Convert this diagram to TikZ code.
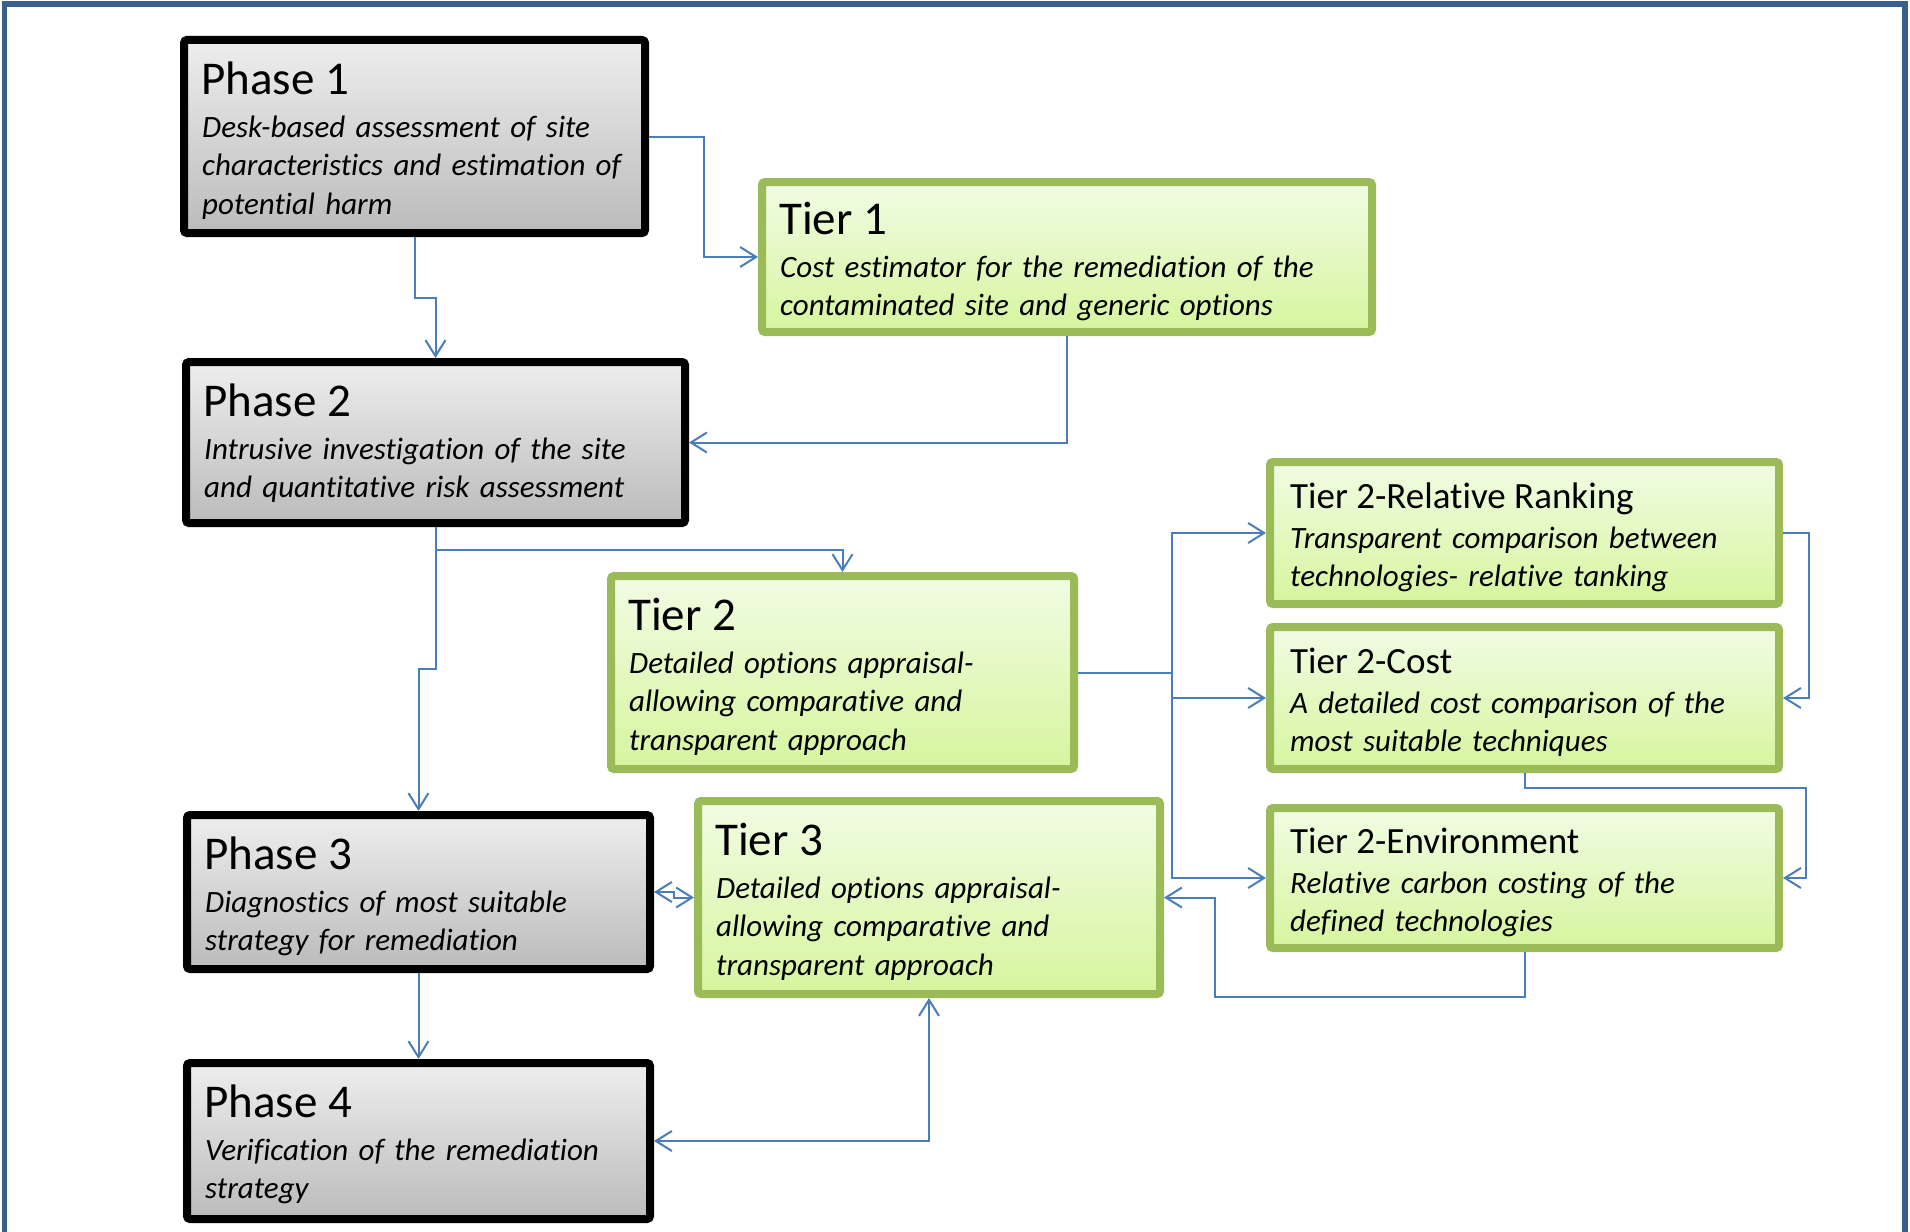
\documentclass[tikz,border=0pt]{standalone}
\usepackage{fontspec}
\setmainfont{Carlito}[Ligatures={NoCommon}]
\usetikzlibrary{arrows.meta,calc}

\definecolor{framebl}{HTML}{3A5F8B}
\definecolor{linkbl}{HTML}{4A7EBB}
\definecolor{leaf}{HTML}{9BBB59}
\definecolor{leaftop}{HTML}{F1FCE4}
\definecolor{leafbot}{HTML}{D6F59E}
\definecolor{greytop}{HTML}{EEEEEE}
\definecolor{greybot}{HTML}{BBBBBB}

\tikzset{
  phasebox/.style={draw=black, line width=8pt, rounded corners=3pt,
    top color=greytop, bottom color=greybot, inner sep=0pt},
  tierbox/.style={draw=leaf, line width=8pt, rounded corners=3pt,
    top color=leaftop, bottom color=leafbot, inner sep=0pt},
  bigtitle/.style={anchor=base west, inner sep=0pt,
    font=\fontsize{47}{56}\selectfont},
  smalltitle/.style={anchor=base west, inner sep=0pt,
    font=\fontsize{37}{44}\selectfont},
  bodytext/.style={anchor=base west, inner sep=0pt, text width=600pt,
    align=left, font=\fontsize{31}{38.7}\selectfont\itshape},
  barb/.tip={Straight Barb[length=16pt,width=20pt]},
  link/.style={draw=linkbl, line width=2pt, -barb},
  duallink/.style={draw=linkbl, line width=2pt, barb-barb},
}

\begin{document}
\begin{tikzpicture}[x=1pt,y=-1pt]
\useasboundingbox (0,0) rectangle (1910,1231);

% outer frame, running off the bottom of the page
\begin{scope}
  \clip (0,0) rectangle (1910,1231);
  \draw[framebl, line width=5.5pt] (4.5,4) rectangle (1905,1270);
\end{scope}

% phase boxes
\node[phasebox, minimum width=461pt, minimum height=193pt] (p1) at (414.5,136.5) {};
\node[phasebox, minimum width=499pt, minimum height=161pt] (p2) at (435.5,442.5) {};
\node[phasebox, minimum width=463pt, minimum height=154pt] (p3) at (418.5,892) {};
\node[phasebox, minimum width=463pt, minimum height=156pt] (p4) at (418.5,1141) {};

% tier boxes
\node[tierbox, minimum width=610pt, minimum height=150pt] (t1) at (1067,257) {};
\node[tierbox, minimum width=463pt, minimum height=193pt] (t2) at (842.5,672.5) {};
\node[tierbox, minimum width=462pt, minimum height=193pt] (t3) at (929,897.5) {};
\node[tierbox, minimum width=509pt, minimum height=142pt] (rr) at (1524.5,533) {};
\node[tierbox, minimum width=509pt, minimum height=142pt] (cost) at (1524.5,698) {};
\node[tierbox, minimum width=509pt, minimum height=140pt] (env) at (1524.5,878) {};

% box texts
\node[bigtitle] (p1h) at ($(p1.north west)+(21,58)$) {Phase 1};
\node[bodytext] (p1b) at ($(p1.north west)+(22,101)$)
  {Desk-based assessment of site\\characteristics and estimation of\\potential harm};
\node[bigtitle] (p2h) at ($(p2.north west)+(21,58)$) {Phase 2};
\node[bodytext] (p2b) at ($(p2.north west)+(22,101)$)
  {Intrusive investigation of the site\\and quantitative risk assessment};
\node[bigtitle] (p3h) at ($(p3.north west)+(21,58)$) {Phase 3};
\node[bodytext] (p3b) at ($(p3.north west)+(22,101)$)
  {Diagnostics of most suitable\\strategy for remediation};
\node[bigtitle] (p4h) at ($(p4.north west)+(21,58)$) {Phase 4};
\node[bodytext] (p4b) at ($(p4.north west)+(22,101)$)
  {Verification of the remediation\\strategy};

\node[bigtitle] (t1h) at ($(t1.north west)+(21,56)$) {Tier 1};
\node[bodytext] (t1b) at ($(t1.north west)+(22,99)$)
  {Cost estimator for the remediation of the\\contaminated site and generic options};
\node[bigtitle] (t2h) at ($(t2.north west)+(21,58)$) {Tier 2};
\node[bodytext] (t2b) at ($(t2.north west)+(22,101)$)
  {Detailed options appraisal-\\allowing comparative and\\transparent approach};
\node[bigtitle] (t3h) at ($(t3.north west)+(21,58)$) {Tier 3};
\node[bodytext] (t3b) at ($(t3.north west)+(22,101)$)
  {Detailed options appraisal-\\allowing comparative and\\transparent approach};

\node[smalltitle] (rrh) at ($(rr.north west)+(24,50)$) {Tier 2-Relative Ranking};
\node[bodytext] (rrb) at ($(rr.north west)+(24,90)$)
  {Transparent comparison between\\technologies- relative tanking};
\node[smalltitle] (costh) at ($(cost.north west)+(24,50)$) {Tier 2-Cost};
\node[bodytext] (costb) at ($(cost.north west)+(24,90)$)
  {A detailed cost comparison of the\\most suitable techniques};
\node[smalltitle] (envh) at ($(env.north west)+(24,49)$) {Tier 2-Environment};
\node[bodytext] (envb) at ($(env.north west)+(24,89)$)
  {Relative carbon costing of the\\defined technologies};

% connectors
\draw[link] (p1.south) |- ($(p1.south)!0.5!(p2.north)$) -| (p2.north);
\draw[link] (p1.east) -| ($(p1.east)!0.5!(t1.west)$) |- (t1.west);
\draw[link] (t1.south) |- (p2.east);
\draw[link] (p2.south) |- ($(p2.south)!0.5!(t2.north)$) -| (t2.north);
\draw[link] (p2.south) -- ++(0,142) -| (p3.north);

\coordinate (fork) at ($(t2.east)+(94,0)$);
\draw[link] (t2.east) -- (fork) |- (rr.west);
\draw[link] (t2.east) -- (fork) |- (cost.west);
\draw[link] (t2.east) -- (fork) |- (env.west);

\draw[link] (rr.east) -- ++(26,0) |- (cost.east);
\draw[link] (cost.south) -- ++(0,15) -| ($(env.east)+(23,0)$) -- (env.east);
\draw[link] (env.south) -- ++(0,45) -| ($(t3.east)+(50.5,0)$) -- (t3.east);

\draw[duallink] (p3.east) -- ++(20,0) |- (t3.west);
\draw[link] (p3.south) -- (p4.north);
\draw[duallink] (t3.south) |- (p4.east);
\end{tikzpicture}
\end{document}
